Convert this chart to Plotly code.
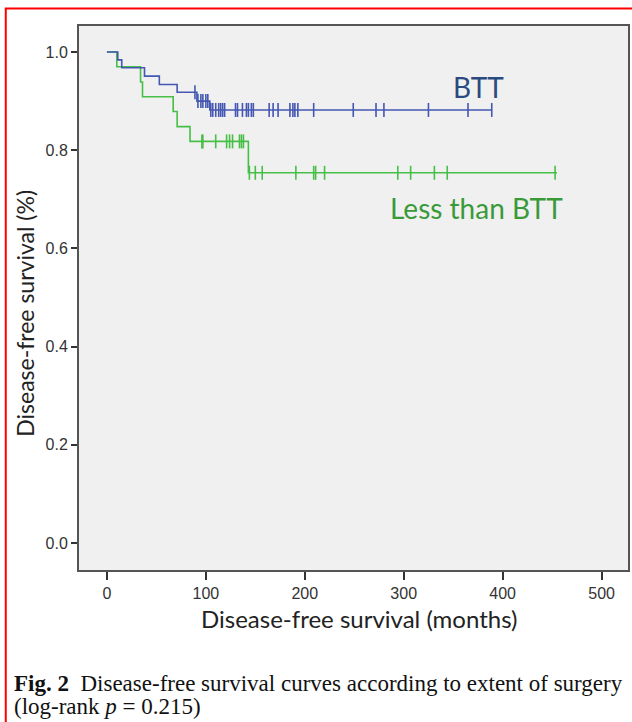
import plotly.graph_objects as go

# ---- data ----
btt_step_times = [0, 11, 15, 38, 53, 71, 91, 104, 389]
btt_step_surv = [1.0, 0.984, 0.968, 0.951, 0.934, 0.918, 0.900, 0.882, 0.882]
btt_censor_times = [89, 92, 95, 97, 100, 102, 105, 107, 110, 113, 115, 117, 119,
                    130, 132, 137, 141, 143, 146, 148, 164, 168, 173, 185, 188,
                    190, 193, 209, 249, 272, 280, 325, 365, 389]

less_step_times = [0, 10, 34, 36, 67, 71, 84, 143, 455]
less_step_surv = [1.0, 0.970, 0.939, 0.909, 0.879, 0.848, 0.818, 0.754, 0.754]
less_censor_times = [96, 97, 110, 121, 124, 127, 134, 136, 138, 144, 150, 157,
                     191, 209, 211, 220, 294, 307, 331, 344, 453]

x_ticks = [0, 100, 200, 300, 400, 500]
y_ticks = [0.0, 0.2, 0.4, 0.6, 0.8, 1.0]
y_tick_text = ["0.0", "0.2", "0.4", "0.6", "0.8", "1.0"]

BLUE = "#4457b2"
GREEN = "#46bf46"


def surv_at(t, times, surv):
    s = surv[0]
    for ti, si in zip(times, surv):
        if ti <= t:
            s = si
    return s


fig = go.Figure()

for times, surv, cens, col in [
    (less_step_times, less_step_surv, less_censor_times, GREEN),
    (btt_step_times, btt_step_surv, btt_censor_times, BLUE),
]:
    fig.add_trace(go.Scatter(x=times, y=surv, mode="lines",
                             line=dict(color=col, width=1.6, shape="hv"),
                             hoverinfo="skip", showlegend=False))
    fig.add_trace(go.Scatter(x=cens, y=[surv_at(t, times, surv) for t in cens],
                             mode="markers",
                             marker=dict(symbol="line-ns", size=10,
                                         line=dict(color=col, width=1.6)),
                             hoverinfo="skip", showlegend=False))

# geometry helpers (pixels -> paper)
L, R, T, B = 79, 2, 26, 152
W, H = 632, 722
pw, ph = W - L - R, H - T - B


def px(x):
    return (x - L) / pw


def py(y):
    return (H - B - y) / ph


def ann(text, x, y, size, color, family="Lato", xanchor="center", **kw):
    return dict(text=text, x=px(x), y=py(y), xref="paper", yref="paper",
                xanchor=xanchor, yanchor="middle", showarrow=False,
                font=dict(family=family, size=size, color=color), **kw)


annotations = [
    ann("BTT", 480, 87, 28, "#2a4a80"),
    ann("Less than BTT", 478, 208, 28, "#3a9a3a"),
    ann("Disease-free survival (months)", 360, 618, 24, "#222"),
    ann("Disease-free survival (%)", 24, 313.5, 23, "#222", textangle=-90),
    ann("<b>Fig. 2</b>  Disease-free survival curves according to extent of surgery",
        12, 683, 23, "#111", family="Liberation Serif", xanchor="left"),
    ann("(log-rank <i>p</i> = 0.215)", 12, 706, 23, "#111",
        family="Liberation Serif", xanchor="left"),
]

shapes = [
    dict(type="rect", xref="paper", yref="paper",
         x0=px(5.5), x1=px(700), y0=py(800), y1=py(8.5),
         line=dict(color="#ff0000", width=2), layer="below"),
]

fig.update_layout(
    width=W, height=H,
    margin=dict(l=L, r=R, t=T, b=B),
    paper_bgcolor="white",
    plot_bgcolor="#f0f0f0",
    annotations=annotations,
    shapes=shapes,
    xaxis=dict(range=[-28.2, 526.7], tickvals=x_ticks, ticks="outside",
               ticklen=8, tickwidth=1.5, tickcolor="#333",
               showgrid=False, zeroline=False, showline=True, mirror=True,
               linecolor="#555", linewidth=2,
               tickfont=dict(family="Liberation Sans", size=16, color="#333")),
    yaxis=dict(range=[-0.055, 1.053], tickvals=y_ticks, ticktext=y_tick_text,
               ticks="outside", ticklen=6, tickwidth=1.5, tickcolor="#333",
               showgrid=False, zeroline=False, showline=True, mirror=True,
               linecolor="#555", linewidth=2,
               tickfont=dict(family="Liberation Sans", size=16, color="#333")),
)

fig.write_html(
    "out.html",
    config={"displayModeBar": False},
    post_script="document.body.style.margin='0';document.body.style.overflow='hidden';",
)
